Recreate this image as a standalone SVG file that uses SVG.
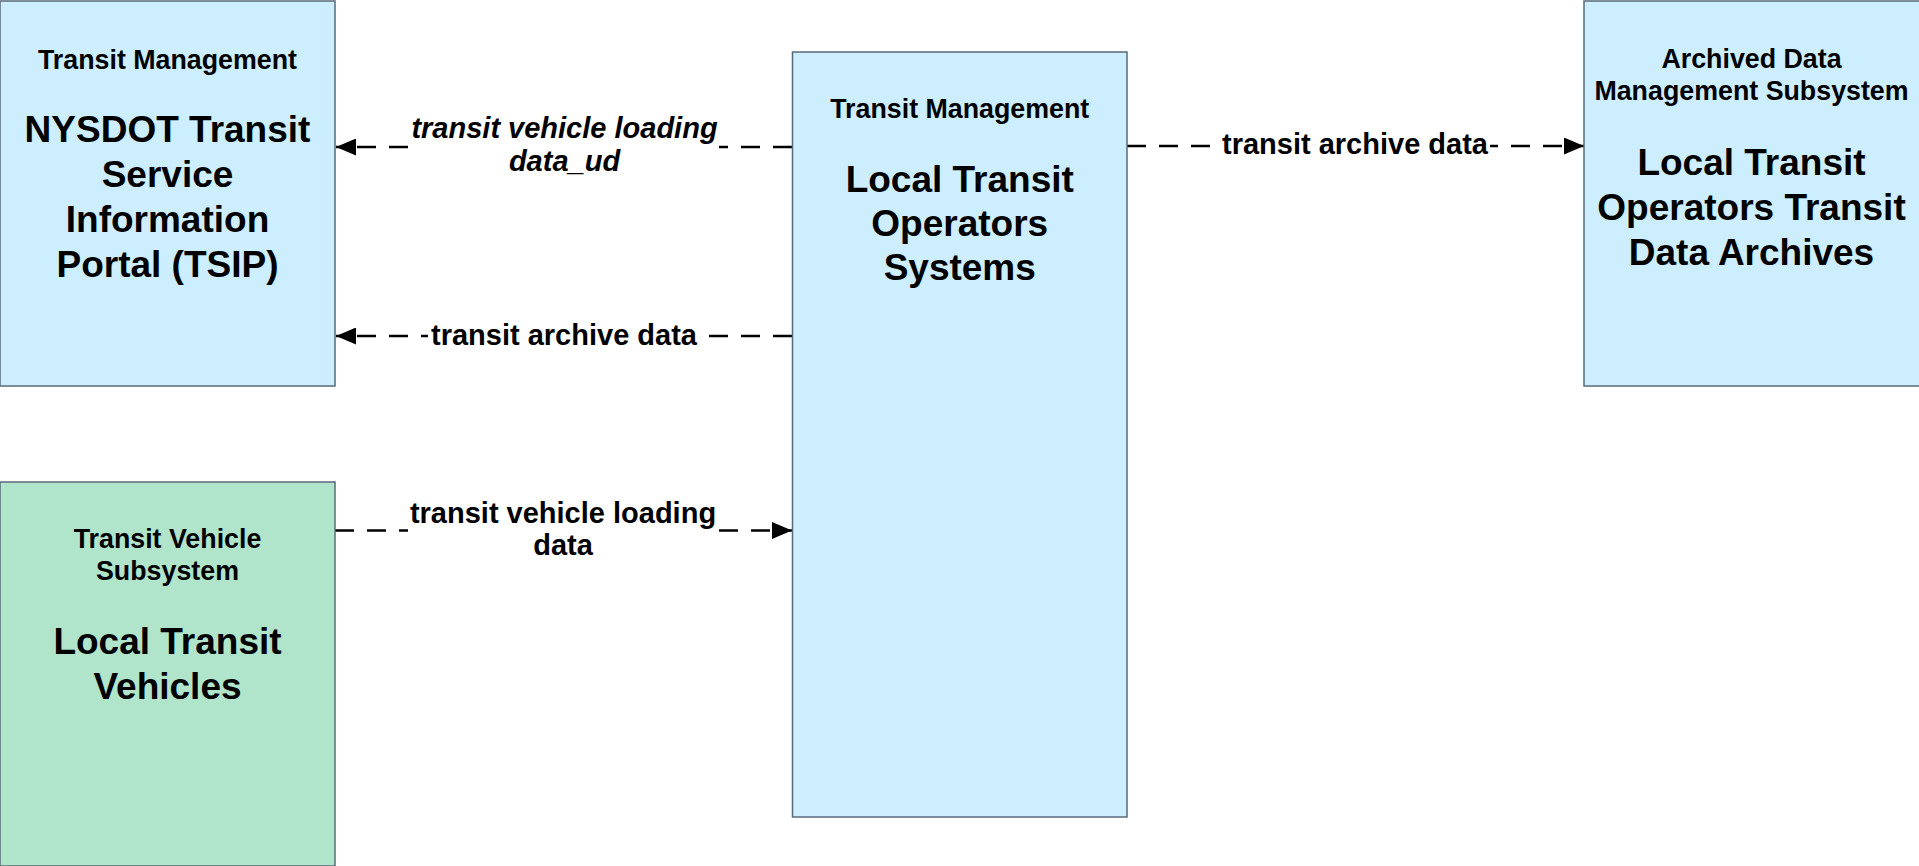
<svg xmlns="http://www.w3.org/2000/svg" width="1919" height="866" viewBox="0 0 1919 866">
<style>
  .box { stroke: #5a6a7a; stroke-width: 1.5; }
  .blue { fill: #cceeff; }
  .green { fill: #b0e5cc; }
  text { font-family: "Liberation Sans", Arial, sans-serif; font-weight: bold; fill: #000; text-anchor: middle; }
  .sub { font-size: 26.8px; }
  .main { font-size: 37px; }
  .lbl { font-size: 29px; }
  .it { font-style: italic; }
  .flow { fill: none; stroke: #000; stroke-width: 2.5; stroke-dasharray: 19 13; marker-end: url(#arrow); }
  .bg { fill: #fff; }
</style>
<defs>
  <marker id="arrow" markerUnits="userSpaceOnUse" markerWidth="21" markerHeight="17" refX="20" refY="8.5" orient="auto">
    <path d="M0,0 L20,8.5 L0,17 Z" fill="#000"/>
  </marker>
</defs>
<rect width="1919" height="866" fill="#fff"/>

<g id="connectors">
  <g id="flow-tvl-ud">
    <path class="flow" d="M792,147 L336,147"/>
    <rect class="bg" x="410" y="116" width="309" height="62"/>
    <text class="lbl it" x="564.5" y="138">transit vehicle loading</text>
    <text class="lbl it" x="564.5" y="171">data_ud</text>
  </g>
  <g id="flow-tad-left">
    <path class="flow" d="M792,336 L336,336"/>
    <rect class="bg" x="428" y="321" width="271" height="32"/>
    <text class="lbl" x="564" y="345">transit archive data</text>
  </g>
  <g id="flow-tad-right">
    <path class="flow" d="M1127,146 L1584,146"/>
    <rect class="bg" x="1220" y="131" width="270" height="32"/>
    <text class="lbl" x="1355" y="154">transit archive data</text>
  </g>
  <g id="flow-tvl">
    <path class="flow" d="M335,530.5 L792,530.5"/>
    <rect class="bg" x="408" y="500" width="311" height="62"/>
    <text class="lbl" x="563" y="523">transit vehicle loading</text>
    <text class="lbl" x="563" y="555">data</text>
  </g>
</g>

<g id="node-nysdot-tsip">
  <rect class="box blue" x="0" y="1" width="335" height="385"/>
  <text class="sub" x="167.5" y="69">Transit Management</text>
  <text class="main" x="167.5" y="142">NYSDOT Transit</text>
  <text class="main" x="167.5" y="187">Service</text>
  <text class="main" x="167.5" y="232">Information</text>
  <text class="main" x="167.5" y="277">Portal (TSIP)</text>
</g>

<g id="node-local-transit-vehicles">
  <rect class="box green" x="0" y="482" width="335" height="384"/>
  <text class="sub" x="167.5" y="548">Transit Vehicle</text>
  <text class="sub" x="167.5" y="580">Subsystem</text>
  <text class="main" x="167.5" y="654">Local Transit</text>
  <text class="main" x="167.5" y="699">Vehicles</text>
</g>

<g id="node-local-transit-operators-systems">
  <rect class="box blue" x="792.5" y="52" width="334.5" height="765"/>
  <text class="sub" x="959.75" y="118">Transit Management</text>
  <text class="main" x="959.75" y="192">Local Transit</text>
  <text class="main" x="959.75" y="236">Operators</text>
  <text class="main" x="959.75" y="280">Systems</text>
</g>

<g id="node-local-transit-data-archives">
  <rect class="box blue" x="1584" y="1" width="336" height="385"/>
  <text class="sub" x="1751.5" y="68">Archived Data</text>
  <text class="sub" x="1751.5" y="100">Management Subsystem</text>
  <text class="main" x="1751.5" y="175">Local Transit</text>
  <text class="main" x="1751.5" y="220">Operators Transit</text>
  <text class="main" x="1751.5" y="265">Data Archives</text>
</g>
</svg>
